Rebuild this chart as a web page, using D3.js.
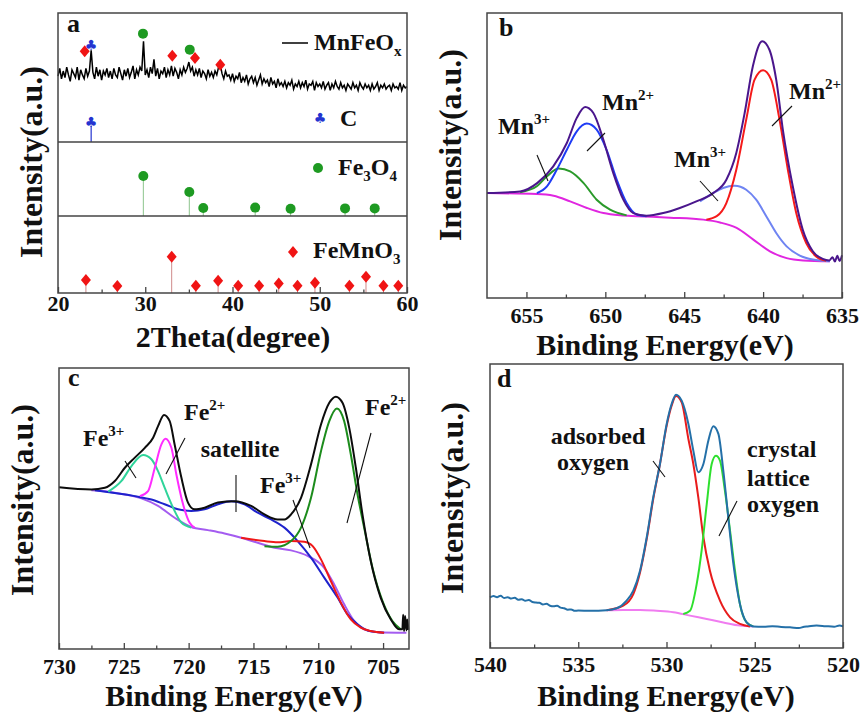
<!DOCTYPE html>
<html>
<head>
<meta charset="utf-8">
<script src="https://cdn.jsdelivr.net/npm/d3@7"></script>
<style>
  body { margin: 0; background: #fff; }
</style>
</head>
<body>
<svg id="fig" width="863" height="713"></svg>
<script>
// ---- panel a : XRD ----
// MnFeOx pattern, one reading every 0.2 degree from 20 to 60
var mnfeoxStart = 20, mnfeoxStep = 0.2;
var mnfeoxCounts = [
    51,57,49,55,50,58,52,47,56,53, 50,58,48,56,52,49,57,51,55,71,
    54,49,58,51,56,48,55,52,57,50, 55,49,57,52,50,58,53,48,56,51,
    57,50,54,59,49,56,52,58,55,78, 52,56,50,58,53,64,51,57,49,55,
    53,58,50,56,52,59,51,57,54,49, 56,52,58,54,57,62,55,58,51,56,
    52,57,50,55,53,49,56,51,54,50, 55,52,58,60,53,49,55,51,52,48,
    53,47,51,49,54,46,50,47,52,45, 49,51,46,50,44,48,52,45,49,46,
    48,43,50,45,47,42,49,44,46,43, 47,42,46,44,48,41,45,43,47,42,
    46,43,48,41,45,44,47,40,46,43, 45,42,47,41,44,46,40,45,42,47,
    43,41,46,42,44,40,45,43,41,46, 42,44,40,46,43,41,45,42,44,40,
    45,41,43,46,40,44,42,45,41,43, 44,40,45,42,43,41,46,40,44,42,
    43];
// phase marks over the MnFeOx pattern
var markTheta = [23.06, 23.8, 29.74, 33.1, 35.1, 35.7, 38.6];
var markLevel = [70.3, 75, 84, 66.9, 71.6, 65.1, 59.9];
var markPhase = ["FeMnO3", "C", "Fe3O4", "FeMnO3", "Fe3O4", "FeMnO3", "FeMnO3"];
// reference cards
var cTheta = [23.8];
var cInt = [100];
var fe3o4Theta = [29.78, 35.05, 36.65, 42.6, 46.66, 52.9, 56.3];
var fe3o4Int = [100, 60, 20, 21, 18, 19, 19];
var femno3Theta = [23.2, 26.8, 33.03, 35.8, 38.35, 40.65, 43.05, 45.3, 47.45, 49.45, 53.4, 55.3, 57.3, 59.0];
var femno3Int = [36, 19, 100, 20, 34, 20, 20, 26, 20, 28, 20, 45, 20, 20];
var thetaTicks = [20, 30, 40, 50, 60];

// ---- panel b : Mn 2p ----
var mnEnvelope = [[657.5,36.8],[655.4,37.4],[654.3,40.4],[653.3,46.2],[652.44,54.4],[651.81,63.2],[651.28,67.0],[650.76,64.9],
    [650.13,55.6],[649.5,43.9],[648.86,34.5],[648.23,29.8],[647.39,28.9],[646.33,29.8],[645.28,31.6],[644.23,33.9],[643.17,36.8],
    [642.33,41.5],[641.7,50.9],[641.17,64.9],[640.65,81.3],[640.06,90.1],[639.6,87.1],[639.17,76.6],[638.75,59.1],[638.12,39.2],
    [637.49,24.0],[636.85,16.4],[636.22,13.7],[635.8,13.2],[635.6,14.3],[635.45,12.8],[635.3,14.8],[635.15,13.0],[635.0,15.0]];
var mnBackground = [[657.5,36.8],[654.34,36.5],[653.28,35.9],[652.23,33.9],[651.17,31.6],[650.12,29.8],[649.06,29.0],[648.0,28.7],
    [645.9,28.2],[643.79,27.5],[642.73,26.5],[641.68,24.6],[640.62,20.5],[639.57,16.4],[638.51,14.0],[637.46,13.2],[635.77,12.9]];
var mn2p1Mn2 = [[654.34,36.8],[653.7,39.2],[653.08,45.0],[652.44,52.0],[651.81,58.5],[651.18,61.2],[650.55,59.1],[649.92,52.0],
    [649.28,41.5],[648.65,33.3],[648.0,29.2],[647.39,28.7]];
var mn2p1Mn3 = [[655.4,37.1],[654.34,39.2],[653.7,42.7],[652.96,45.4],[652.23,44.4],[651.39,40.4],[650.55,34.5],[649.7,31.0],[648.65,29.0]];
var mn2p3Mn2 = [[643.6,27.5],[642.94,28.7],[642.33,33.3],[641.7,45.0],[641.07,62.6],[640.54,76.6],[640.0,79.9],[639.49,76.6],
    [638.96,62.6],[638.43,45.0],[637.9,29.8],[637.27,19.3],[636.64,14.6],[636.0,13.1]];
var mn2p3Mn3 = [[644.0,33.9],[643.17,36.8],[642.54,38.6],[641.8,39.4],[641.07,38.0],[640.44,34.5],[639.8,28.7],[639.17,22.8],
    [638.51,18.1],[637.67,14.9],[636.85,13.5],[635.77,12.9]];
var mnTicks = [655, 650, 645, 640, 635];

// ---- panel c : Fe 2p ----
var feEnvelope = [[730,57.6],[727.5,56.8],[726.46,57.4],[725.69,59.8],[724.92,64.5],[724.15,68.1],[723.38,71.6],[722.74,75.2],
    [722.36,79.3],[721.9,83.3],[721.46,81.1],[721.08,72.8],[720.56,61.0],[720.05,52.1],[719.54,49.7],[718.77,50.3],[717.74,52.1],
    [716.46,52.6],[715.18,50.9],[714.15,47.9],[713.13,46.1],[712.61,46.1],[712.1,47.9],[711.33,53.8],[710.56,65.7],[709.79,79.9],
    [709.15,87.6],[708.64,89.8],[708.13,87.6],[707.61,78.7],[707.1,64.5],[706.59,47.9],[705.95,31.3],[705.18,18.2],[704.4,10.5],
    [703.77,7.0],[703.51,7.0],[703.45,12.2],[703.38,6.4],[703.3,11.7],[703.2,6.6],[703.13,10.5],[703.05,6.8]];
var feBackground = [[727.5,56.5],[726.2,56.0],[724.92,55.0],[723.64,53.6],[722.36,50.9],[721.08,46.7],[719.8,43.4],[718.51,42.3],
    [717.23,41.1],[715.95,39.6],[714.67,37.8],[713.38,36.0],[712.1,35.1],[710.82,33.1],[709.54,28.9],[708.77,23.0],[708.0,15.9],
    [707.23,10.0],[706.46,7.0],[705.44,6.0],[703.2,5.8]];
var feSatellite = [[727.23,56.5],[724.15,54.4],[722.87,53.2],[721.85,51.5],[720.82,49.7],[719.8,49.1],[718.77,49.7],[717.74,51.5],
    [716.72,52.6],[715.69,51.5],[714.67,48.5],[713.64,46.1],[712.61,43.2],[711.59,38.4],[710.56,32.5],[709.54,25.4],[708.51,18.3],
    [707.74,12.3],[706.97,8.8],[706.2,6.6],[704.92,5.8]];
var fe2p1Fe3 = [[726.2,56.0],[725.18,59.8],[724.41,65.1],[723.51,69.0],[722.87,67.5],[722.36,63.3],[721.85,57.4],[721.2,50.3],
    [720.56,45.0],[719.8,43.2]];
var fe2p1Fe2 = [[723.77,54.4],[723.13,56.2],[722.61,64.5],[722.1,72.8],[721.79,74.8],[721.33,71.6],[720.95,62.2],[720.43,51.5],
    [719.92,44.9],[719.54,43.2]];
var fe2p3Fe3 = [[715.95,39.6],[714.15,38.4],[713.13,38.0],[712.1,38.4],[711.08,38.2],[710.43,36.6],[709.79,31.9],[709.03,24.2],
    [708.26,16.5],[707.49,10.5],[706.72,7.6],[705.95,6.4],[704.92,5.8]];
var fe2p3Fe2 = [[714.15,36.6],[713.13,36.4],[712.1,38.4],[711.33,43.2],[710.56,53.8],[709.79,70.4],[709.15,81.1],[708.56,85.6],
    [708.0,81.1],[707.49,69.3],[706.97,55.0],[706.46,43.2],[705.82,28.9],[705.05,17.1],[704.28,9.9],[703.64,7.0]];
var feTicks = [730, 725, 720, 715, 710, 705];

// ---- panel d : O 1s ----
var oEnvelope = [[540,17.8],[539.8,18.3],[539.6,17.9],[539.4,18.4],[539.2,17.6],[539.0,17.9],[538.8,17.4],[538.6,17.7],[538.4,17.0],
    [538.2,17.2],[538.0,16.6],[537.8,16.9],[537.6,16.2],[537.4,16.0],[537.2,15.9],[537.0,15.3],[536.8,15.6],[536.6,14.9],[536.4,14.7],
    [536.2,14.9],[536.0,14.2],[535.8,14.0],[535.6,13.5],[535.4,13.6],[535.2,13.1],[535.0,13.2],[534.33,13.1],[533.39,13.3],[532.82,14.0],
    [532.26,16.7],[531.88,20.2],[531.5,27.2],[531.12,39.0],[530.75,53.1],[530.37,64.8],[529.99,78.9],[529.71,85.9],[529.46,89.2],
    [529.14,87.1],[528.76,78.9],[528.48,69.5],[528.2,61.9],[527.91,64.8],[527.63,73.0],[527.35,78.1],[527.06,75.4],[526.78,62.4],
    [526.5,46.0],[526.21,29.6],[525.84,15.5],[525.46,9.0],[525.08,7.6],[524.5,7.5],[524.0,7.7],[523.5,7.4],[523.0,7.3],[522.5,7.0],
    [522.2,7.5],[522.0,7.6],[521.5,7.9],[521.0,7.7],[520.5,7.5],[520.2,7.9],[520,7.6]];
var oBackground = [[533.39,13.3],[532.45,13.4],[531.5,13.4],[530.56,13.1],[529.61,12.6],[528.67,11.4],[527.72,10.2],[526.78,9.0],
    [525.84,7.9],[525.08,7.6]];
var oAdsorbed = [[533.39,13.3],[532.45,14.9],[531.88,19.0],[531.5,26.6],[531.12,38.4],[530.75,52.5],[530.37,64.8],[529.99,78.3],
    [529.71,85.3],[529.46,88.7],[529.14,86.5],[528.76,73.6],[528.48,64.8],[528.2,53.1],[527.91,39.0],[527.54,27.2],[526.97,16.7],
    [526.4,10.8],[525.84,8.5],[525.27,7.6]];
var oLattice = [[529.05,12.0],[528.67,13.1],[528.29,22.5],[528.01,34.3],[527.72,50.7],[527.44,64.8],[527.2,67.7],[526.97,66.0],
    [526.69,55.4],[526.4,41.3],[526.12,27.2],[525.84,15.5],[525.46,9.0],[525.08,7.6]];
var oTicks = [540, 535, 530, 525, 520];


var svg = d3.select("#fig");
var frameColor = "#454545";
var serif = "'Liberation Serif', 'Times New Roman', Times, 'DejaVu Serif', serif";

var boxA = {l: 58, r: 407, t: 13, b: 293};
var boxB = {l: 487, r: 842, t: 13, b: 298};
var boxC = {l: 59, r: 409, t: 368, b: 649};
var boxD = {l: 490, r: 843, t: 364, b: 648};

function frame(b) {
    svg.append("rect")
        .attr("x", b.l).attr("y", b.t)
        .attr("width", b.r - b.l).attr("height", b.b - b.t)
        .attr("fill", "none")
        .attr("stroke", frameColor)
        .attr("stroke-width", 1.5);
}

function bottomAxis(x, b, majors, pad, fs) {
    var minors = [];
    majors.forEach(function (v, i) {
        if (i < majors.length - 1) minors.push(v + (majors[i + 1] - v) / 2);
    });
    var g = svg.append("g").attr("transform", "translate(0," + b.b + ")")
        .call(d3.axisBottom(x).tickValues(majors).tickSize(-6).tickPadding(pad).tickFormat(d3.format("d")));
    g.attr("font-size", fs).attr("font-family", serif);
    g.select(".domain").remove();
    g.selectAll("line").attr("stroke", frameColor).attr("stroke-width", 1.3);
    var m = svg.append("g").attr("transform", "translate(0," + b.b + ")")
        .call(d3.axisBottom(x).tickValues(minors).tickSize(-3.5).tickFormat(""));
    m.select(".domain").remove();
    m.selectAll("line").attr("stroke", frameColor).attr("stroke-width", 1.3);
}

function curve(data, x, y, color, w) {
    var ln = d3.line()
        .x(function (d) { return x(d[0]); })
        .y(function (d) { return y(d[1]); })
        .curve(d3.curveMonotoneX);
    svg.append("path").datum(data)
        .attr("d", ln)
        .attr("fill", "none")
        .attr("stroke", color)
        .attr("stroke-width", w || 2)
        .attr("stroke-linejoin", "round");
}

// text with super / subscripts : parts = [[txt, "sup"|"sub"|""], ...]
function richText(x, y, parts, size, anchor) {
    var t = svg.append("text").attr("x", x).attr("y", y)
        .attr("font-size", size)
        .attr("text-anchor", anchor || "start");
    var shift = 0;
    parts.forEach(function (p) {
        var dy = 0, fs = size;
        if (p[1] == "sup") { dy = -Math.round(size * 0.4); fs = Math.round(size * 0.62); }
        if (p[1] == "sub") { dy = Math.round(size * 0.25); fs = Math.round(size * 0.62); }
        t.append("tspan").attr("dy", dy - shift).attr("font-size", fs).text(p[0]);
        shift = dy;
    });
    return t;
}

function leader(x1, y1, x2, y2) {
    svg.append("line")
        .attr("x1", x1).attr("y1", y1).attr("x2", x2).attr("y2", y2)
        .attr("stroke", "#111").attr("stroke-width", 1.1);
}

function yTitle(x, y) {
    svg.append("text")
        .attr("transform", "translate(" + x + "," + y + ") rotate(-90)")
        .attr("text-anchor", "middle")
        .attr("font-size", 32)
        .text("Intensity(a.u.)");
}

function xTitle(x, y, txt) {
    svg.append("text").attr("x", x).attr("y", y)
        .attr("text-anchor", "middle").attr("font-size", 30)
        .text(txt);
}

var phaseColor = {"Fe3O4": "#1e9a22", "FeMnO3": "#f01414", "C": "#2434d0"};

function marker(phase, cx, cy) {
    if (phase == "Fe3O4") {
        svg.append("circle").attr("cx", cx).attr("cy", cy).attr("r", 5)
            .attr("fill", phaseColor[phase]);
    } else if (phase == "FeMnO3") {
        svg.append("path")
            .attr("d", "M0,-6L5,0L0,6L-5,0Z")
            .attr("transform", "translate(" + cx + "," + cy + ")")
            .attr("fill", phaseColor[phase]);
    } else {
        svg.append("text").attr("x", cx).attr("y", cy + 5)
            .attr("class", "glyph")
            .attr("text-anchor", "middle")
            .style("font-family", "DejaVu Sans")
            .style("fill", phaseColor[phase])
            .attr("font-size", 14)
            .text("\u2663");
    }
}

// ================= panel a =================
var xa = d3.scaleLinear().domain([20, 60]).range([boxA.l, boxA.r]);
var yaTop = d3.scaleLinear().domain([0, 100]).range([142, 13]);
var yaC = d3.scaleLinear().domain([0, 100]).range([142, 122]);
var yaFe = d3.scaleLinear().domain([0, 100]).range([216, 176]);
var yaMn = d3.scaleLinear().domain([0, 100]).range([293, 256.7]);

var trace = d3.line()
    .x(function (d, i) { return xa(mnfeoxStart + i * mnfeoxStep); })
    .y(function (d) { return yaTop(d); });
svg.append("path").datum(mnfeoxCounts)
    .attr("d", trace)
    .attr("fill", "none")
    .attr("stroke", "#000")
    .attr("stroke-width", 1.5);

markTheta.forEach(function (t, i) {
    marker(markPhase[i], xa(t), yaTop(markLevel[i]));
});

function sticks(thetas, ints, y, phase, stickColor) {
    svg.selectAll(null).data(thetas).enter().append("line")
        .attr("x1", function (d) { return xa(d); })
        .attr("x2", function (d) { return xa(d); })
        .attr("y1", y(0))
        .attr("y2", function (d, i) { return y(ints[i]); })
        .attr("stroke", stickColor)
        .attr("stroke-width", 1);
    thetas.forEach(function (t, i) { marker(phase, xa(t), y(ints[i])); });
}
svg.selectAll(null).data(cTheta).enter().append("line")
    .attr("x1", function (d) { return xa(d); })
    .attr("x2", function (d) { return xa(d); })
    .attr("y1", yaC(0))
    .attr("y2", function (d, i) { return yaC(cInt[i]) + 4; })
    .attr("stroke", "#2434d0").attr("stroke-width", 1.2);
cTheta.forEach(function (t, i) { marker("C", xa(t), yaC(cInt[i])); });
sticks(fe3o4Theta, fe3o4Int, yaFe, "Fe3O4", "#8cc48c");
sticks(femno3Theta, femno3Int, yaMn, "FeMnO3", "#cf8a8a");

frame(boxA);
[142, 216].forEach(function (yy) {
    svg.append("line").attr("x1", boxA.l).attr("x2", boxA.r).attr("y1", yy).attr("y2", yy)
        .attr("stroke", frameColor).attr("stroke-width", 1.5);
});
bottomAxis(xa, boxA, thetaTicks, 2, 22);

// legends
svg.append("line").attr("x1", 282).attr("x2", 308).attr("y1", 43).attr("y2", 43)
    .attr("stroke", "#000").attr("stroke-width", 1.5);
richText(314, 50, [["MnFeO", ""], ["x", "sub"]], 24);
marker("C", 320, 118);
richText(340, 126, [["C", ""]], 24);
marker("Fe3O4", 318, 168);
richText(338, 175, [["Fe", ""], ["3", "sub"], ["O", ""], ["4", "sub"]], 24);
marker("FeMnO3", 293, 252);
richText(313, 258, [["FeMnO", ""], ["3", "sub"]], 24);

svg.append("text").attr("x", 67).attr("y", 32).attr("font-size", 26).text("a");
yTitle(42, 162);
xTitle(233, 347, "2Theta(degree)");

// ================= panel b =================
var xb = d3.scaleLinear().domain([657.5, 635]).range([boxB.l, boxB.r]);
var yb = d3.scaleLinear().domain([0, 100]).range([boxB.b, boxB.t]);

curve(mnBackground, xb, yb, "#e026e0");
curve(mn2p1Mn3, xb, yb, "#2a9a2a");
curve(mn2p3Mn3, xb, yb, "#6f84f2");
curve(mn2p1Mn2, xb, yb, "#1f3cf5");
curve(mn2p3Mn2, xb, yb, "#f51a1a");
curve(mnEnvelope, xb, yb, "#4a168c");

frame(boxB);
bottomAxis(xb, boxB, mnTicks, 9, 22);

svg.append("text").attr("x", 499).attr("y", 36).attr("font-size", 26).text("b");
richText(498, 134, [["Mn", ""], ["3+", "sup"]], 24);
leader(537, 155, 548, 181);
richText(602, 110, [["Mn", ""], ["2+", "sup"]], 24);
leader(605, 133, 587, 151);
richText(674, 167, [["Mn", ""], ["3+", "sup"]], 24);
leader(700, 181, 718, 201);
richText(789, 99, [["Mn", ""], ["2+", "sup"]], 24);
leader(792, 106, 772, 126);

yTitle(461, 145);
xTitle(665, 355, "Binding Energy(eV)");

// ================= panel c =================
var xc = d3.scaleLinear().domain([730, 703]).range([boxC.l, boxC.r]);
var yc = d3.scaleLinear().domain([0, 100]).range([boxC.b, boxC.t]);

curve(feBackground, xc, yc, "#a45cf0");
curve(feSatellite, xc, yc, "#1e22cc");
curve(fe2p1Fe3, xc, yc, "#2fd49a");
curve(fe2p1Fe2, xc, yc, "#ff2cff");
curve(fe2p3Fe3, xc, yc, "#f01818");
curve(fe2p3Fe2, xc, yc, "#1c8c1c");
curve(feEnvelope, xc, yc, "#0c0c0c");

frame(boxC);
bottomAxis(xc, boxC, feTicks, 9, 22);

svg.append("text").attr("x", 68).attr("y", 386).attr("font-size", 26).text("c");
richText(83, 446, [["Fe", ""], ["3+", "sup"]], 24);
leader(125, 461, 136, 478);
richText(184, 420, [["Fe", ""], ["2+", "sup"]], 24);
leader(185, 438, 166, 474);
svg.append("text").attr("x", 240).attr("y", 457).attr("font-size", 24)
    .attr("text-anchor", "middle").text("satellite");
leader(236, 475, 236, 512);
richText(260, 493, [["Fe", ""], ["3+", "sup"]], 24);
leader(293, 500, 310, 548);
richText(365, 415, [["Fe", ""], ["2+", "sup"]], 24);
leader(371, 433, 347, 523);

yTitle(33, 500);
xTitle(234, 706, "Binding Energy(eV)");

// ================= panel d =================
var xd = d3.scaleLinear().domain([540, 520]).range([boxD.l, boxD.r]);
var yd = d3.scaleLinear().domain([0, 100]).range([boxD.b, boxD.t]);

curve(oBackground, xd, yd, "#f07cf0");
curve(oAdsorbed, xd, yd, "#e81c1c");
curve(oLattice, xd, yd, "#2ee02e");
curve(oEnvelope, xd, yd, "#2470a8");

frame(boxD);
bottomAxis(xd, boxD, oTicks, 8, 22);

svg.append("text").attr("x", 497).attr("y", 387).attr("font-size", 26).text("d");
svg.append("text").attr("x", 598).attr("y", 444).attr("font-size", 24)
    .attr("text-anchor", "middle").text("adsorbed");
svg.append("text").attr("x", 593).attr("y", 470).attr("font-size", 24)
    .attr("text-anchor", "middle").text("oxygen");
leader(653, 461, 665, 477);
svg.append("text").attr("x", 747).attr("y", 457).attr("font-size", 24).text("crystal");
svg.append("text").attr("x", 747).attr("y", 486).attr("font-size", 24).text("lattice");
svg.append("text").attr("x", 747).attr("y", 512).attr("font-size", 24).text("oxygen");
leader(737, 501, 719, 536);

yTitle(463, 498);
xTitle(666, 706, "Binding Energy(eV)");

// one typeface for every label (the club glyph keeps its own font)
svg.selectAll("text").filter(function () { return !this.classList.contains("glyph"); })
    .style("font-family", serif)
    .style("font-weight", "bold")
    .style("fill", "#111");
</script>
</body>
</html>
